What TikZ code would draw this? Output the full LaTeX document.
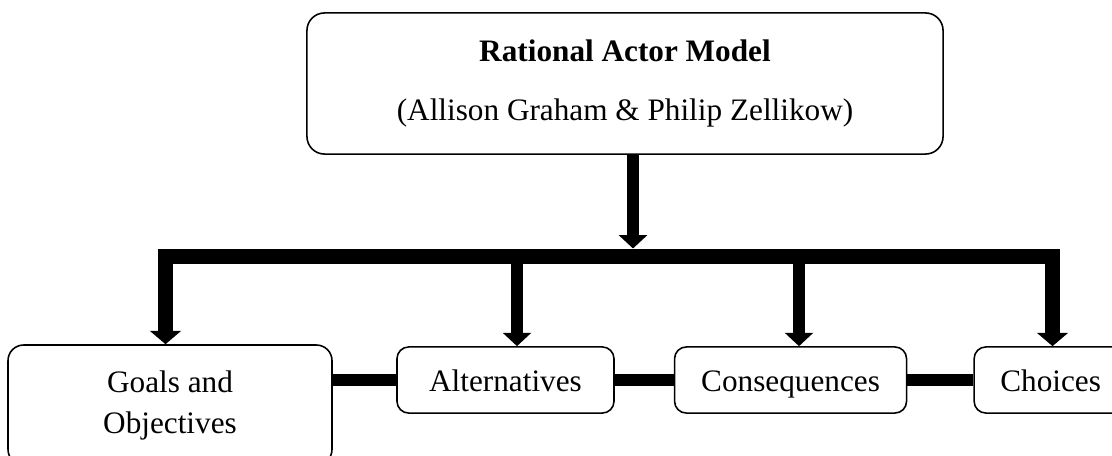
\documentclass[tikz,border=0pt]{standalone}
\usepackage{fontspec}
\setmainfont{Liberation Serif}
\usetikzlibrary{arrows.meta, positioning}
\tikzset{
  headbox/.style={rectangle, rounded corners=9pt, draw=black, line width=0.8pt, minimum width=11.45cm, minimum height=2.54cm, align=center, font=\fontsize{16}{19}\selectfont},
  stepbox/.style={rectangle, rounded corners=6pt, draw=black, line width=0.8pt, minimum height=1.19cm, align=center, font=\fontsize{16}{21}\selectfont},
  oneline/.style={text height=13.5pt, text depth=1.5pt},
  bus/.style={line width=0.27cm, {Triangle[width=0.55cm,length=0.24cm]}-{Triangle[width=0.55cm,length=0.24cm]}},
  branch/.style={line width=0.21cm, -{Triangle[width=0.5cm,length=0.24cm]}},
  link/.style={line width=0.216cm}
}

\begin{document}
\begin{tikzpicture}
  \useasboundingbox (0,0) rectangle (20.016,8.19);
  \clip (0,0) rectangle (20.016,8.19);

  \node[headbox] (ram) at (11.25,6.687) {\textbf{Rational Actor Model}\\[11.5pt](Allison Graham \& Philip Zellikow)};

  \node[stepbox, minimum width=5.832cm, minimum height=2.16cm, rounded corners=8pt] (goals) at (3.06,0.9) {Goals and\\Objectives};
  \node[stepbox, oneline, minimum width=3.906cm] (alt) at (9.099,1.35) {Alternatives};
  \node[stepbox, oneline, minimum width=4.176cm, right=1.062cm of alt] (cons) {Consequences};
  \node[stepbox, oneline, minimum width=2.754cm, right=1.188cm of cons] (choices) {Choices};

  \coordinate (barL) at (2.979,3.582);
  \coordinate (barR) at (18.945,3.582);
  \coordinate (hub) at (11.394,3.717);
  \coordinate (tA) at (9.306,3.582);
  \coordinate (tC) at (14.382,3.582);

  \draw[branch] (hub |- ram.south) -- (hub);
  \draw[bus] (goals.north -| barL) -- (barL) -- (barR) -- (choices.north -| barR);
  \draw[branch] (tA) -- (tA |- alt.north);
  \draw[branch] (tC) -- (tC |- cons.north);

  \draw[link] (goals.east |- alt.west) -- (alt.west);
  \draw[link] (alt) -- (cons);
  \draw[link] (cons) -- (choices);
\end{tikzpicture}
\end{document}
